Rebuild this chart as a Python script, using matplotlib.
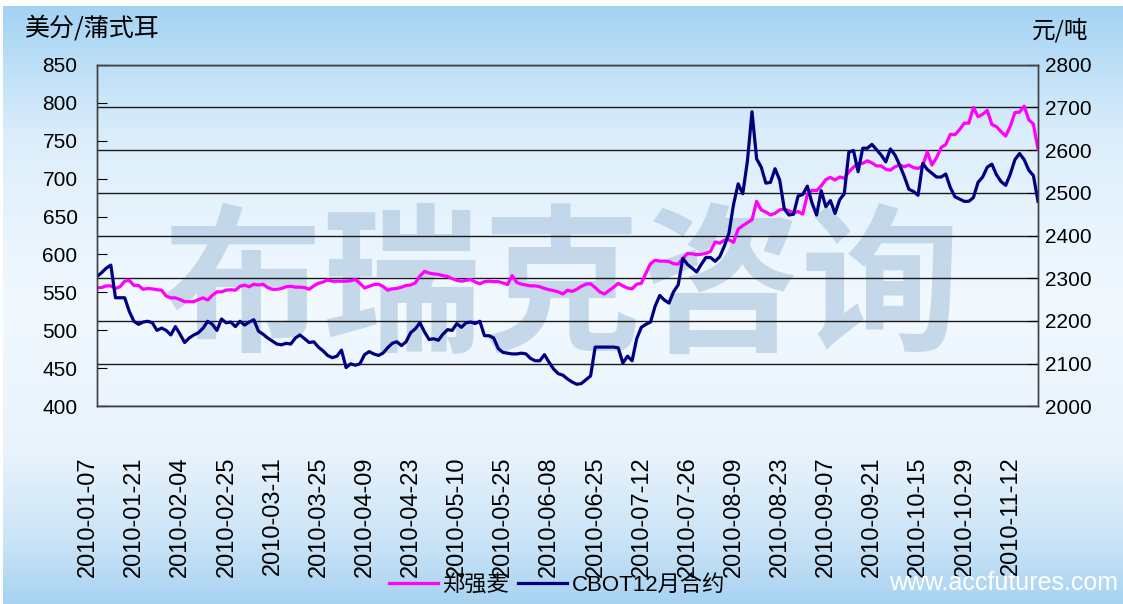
import numpy as np
import matplotlib
matplotlib.use('Agg')
import matplotlib.pyplot as plt
from matplotlib.colors import LinearSegmentedColormap
from matplotlib.transforms import ScaledTranslation

plt.rcParams['font.family'] = ['Liberation Sans', 'Noto Sans CJK SC', 'DejaVu Sans']

# x轴标签（每10个交易日一个）
tick_dates = ['2010-01-07', '2010-01-21', '2010-02-04', '2010-02-25', '2010-03-11',
              '2010-03-25', '2010-04-09', '2010-04-23', '2010-05-10', '2010-05-25',
              '2010-06-08', '2010-06-25', '2010-07-12', '2010-07-26', '2010-08-09',
              '2010-08-23', '2010-09-07', '2010-09-21', '2010-10-15', '2010-10-29',
              '2010-11-12']

# CBOT12月合约 美分/蒲式耳（左轴）
cbot = [571, 576, 582, 586, 543, 543, 543, 525, 512, 508,
        511, 512, 510, 500, 503, 500, 494, 505, 495, 484,
        490, 494, 497, 503, 512, 508, 500, 515, 510, 511,
        505, 512, 507, 511, 514, 499, 495, 490, 486, 482,
        481, 483, 482, 490, 494, 489, 484, 485, 478, 473,
        467, 464, 466, 474, 451, 456, 454, 456, 468, 472,
        469, 467, 470, 477, 483, 485, 480, 485, 497, 502,
        510, 498, 488, 489, 487, 495, 501, 500, 509, 504,
        510, 511, 509, 512, 493, 493, 490, 476, 471, 470,
        469, 469, 470, 469, 463, 460, 460, 468, 458, 449,
        443, 441, 436, 432, 429, 430, 435, 440, 478, 478,
        478, 478, 478, 477, 457, 466, 460, 489, 504, 508,
        511, 532, 546, 540, 536, 551, 560, 595, 587, 582,
        577, 587, 596, 596, 591, 597, 611, 628, 666, 693,
        680, 723, 788, 726, 715, 694, 695, 713, 698, 660,
        652, 653, 677, 679, 690, 668, 652, 684, 663, 671,
        654, 672, 680, 735, 737, 709, 740, 740, 745, 738,
        731, 722, 739, 731, 718, 703, 686, 683, 678, 720,
        712, 707, 702, 702, 706, 688, 676, 673, 670, 670,
        675, 695, 702, 715, 719, 705, 696, 691, 706, 725,
        733, 725, 711, 704, 670]

# 郑强麦 元/吨（右轴）
zheng = [2278, 2278, 2282, 2282, 2276, 2280, 2293, 2295, 2283, 2283,
         2274, 2276, 2275, 2273, 2272, 2258, 2254, 2254, 2250, 2245,
         2245, 2245, 2250, 2254, 2249, 2260, 2268, 2268, 2272, 2273,
         2272, 2281, 2284, 2280, 2286, 2284, 2286, 2278, 2274, 2274,
         2276, 2280, 2281, 2279, 2279, 2278, 2274, 2282, 2288, 2291,
         2296, 2293, 2293, 2293, 2293, 2294, 2297, 2288, 2277, 2281,
         2285, 2286, 2281, 2272, 2275, 2276, 2279, 2283, 2284, 2289,
         2305, 2316, 2312, 2310, 2309, 2306, 2304, 2299, 2295, 2293,
         2295, 2297, 2291, 2287, 2292, 2293, 2292, 2292, 2289, 2285,
         2306, 2290, 2286, 2284, 2282, 2282, 2280, 2276, 2273, 2271,
         2268, 2263, 2272, 2269, 2274, 2281, 2286, 2287, 2278, 2268,
         2263, 2271, 2279, 2288, 2282, 2277, 2275, 2286, 2288, 2312,
         2334, 2342, 2340, 2340, 2339, 2334, 2333, 2346, 2358, 2357,
         2355, 2356, 2358, 2363, 2385, 2382, 2389, 2390, 2384, 2415,
         2423, 2430, 2437, 2480, 2460, 2455, 2448, 2452, 2460, 2462,
         2458, 2453, 2456, 2450, 2496, 2506, 2505, 2516, 2531, 2536,
         2530, 2537, 2534, 2549, 2560, 2568, 2569, 2575, 2570, 2563,
         2563, 2555, 2553, 2561, 2565, 2561, 2565, 2559, 2557, 2563,
         2596, 2565, 2582, 2606, 2613, 2637, 2636, 2648, 2663, 2663,
         2700, 2678, 2684, 2693, 2660, 2655, 2643, 2633, 2656, 2688,
         2689, 2703, 2671, 2661, 2602]

x = np.arange(len(cbot))

fig = plt.figure(figsize=(11.23, 6.04), dpi=100)

# 背景渐变
bg = fig.add_axes([0.003, 0, 0.997, 0.99], zorder=-10)
cmap = LinearSegmentedColormap.from_list('bg', [
    (0.0, '#a4d2f3'), (0.10, '#bde0f7'), (0.22, '#dceefb'), (0.5, '#f2f9ff'),
    (0.75, '#e8f3fc'), (0.9, '#c9e3f6'), (1.0, '#a8d3f1')])
bg.imshow(np.linspace(0, 1, 256).reshape(-1, 1), aspect='auto', cmap=cmap,
          extent=[0, 1, 0, 1])
bg.axis('off')

ax = fig.add_axes([97 / 1123, 1 - 406.3 / 604, 941 / 1123, 341.6 / 604])
ax2 = ax.twinx()
ax.set_zorder(ax2.get_zorder() + 1)
ax.patch.set_visible(False)
ax2.patch.set_visible(False)

# 水印
ax2.text(0.494, 0.335, '布瑞克咨询', transform=ax2.transAxes, ha='center', va='center',
         fontsize=115, fontweight='bold', color='#a9c4dc', alpha=0.6,
         family=['Noto Sans CJK SC'], zorder=0.5)

l2, = ax2.plot(x, zheng, color='#ff00ff', lw=2.3)
l1, = ax.plot(x, cbot, color='#000080', lw=2.3)

ax.set_xlim(0, len(cbot) - 1)
ax.set_ylim(400, 850)
ax.set_yticks(range(400, 851, 50))
ax2.set_ylim(2000, 2800)
ax2.set_yticks(range(2000, 2801, 100))
ax2.yaxis.grid(True, color='#1a1a1a', lw=1)

ax.set_xticks(range(0, len(cbot), 10))
ax.set_xticklabels(tick_dates, rotation=90, fontsize=17, va='top')
ax.tick_params(axis='x', length=0, pad=36)
for lab in ax.get_xticklabels():
    lab.set_transform(lab.get_transform() + ScaledTranslation(-0.09, 0, fig.dpi_scale_trans))

ax.tick_params(axis='y', direction='in', length=7, labelsize=15, pad=14)
ax2.tick_params(axis='y', direction='in', length=7, labelsize=15, pad=5)

for a in (ax, ax2):
    for s in a.spines.values():
        s.set_color('#404040')
        s.set_linewidth(1)

fig.text(25 / 1123, 1 - 28 / 604, '美分/蒲式耳', fontsize=18, va='center',
         family=['Noto Sans CJK SC'])
fig.text(1032 / 1123, 1 - 30 / 604, '元/吨', fontsize=17, va='center',
         family=['Noto Sans CJK SC'])

fig.legend([l2, l1], ['郑强麦', 'CBOT12月合约'], loc='center',
           bbox_to_anchor=(557 / 1123, 1 - 585 / 604), ncol=2, frameon=False,
           fontsize=16, handlelength=2.2, columnspacing=0.4, handletextpad=0.2)

fig.text(1118 / 1123, 1 - 583 / 604, 'www.accfutures.com', ha='right', va='center',
         color='white', fontsize=18)

plt.savefig('out.png', dpi=100)
